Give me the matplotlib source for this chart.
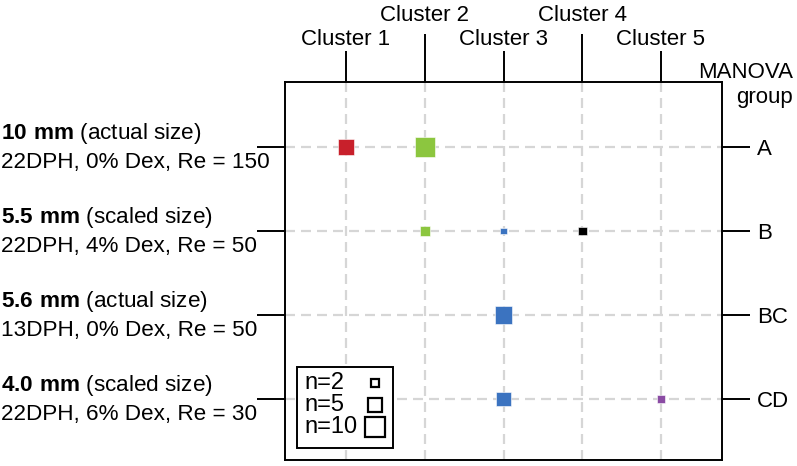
import matplotlib
matplotlib.use("Agg")
import matplotlib.pyplot as plt
import matplotlib.transforms as mtransforms
from matplotlib.ticker import FixedLocator
from matplotlib.legend_handler import HandlerBase
from matplotlib.lines import Line2D
from matplotlib.text import Text

plt.rcParams['font.family'] = ['Liberation Sans', 'DejaVu Sans']
plt.rcParams['mathtext.fontset'] = 'custom'
plt.rcParams['mathtext.rm'] = 'Liberation Sans'
plt.rcParams['mathtext.bf'] = 'Liberation Sans:bold'

# Data
clusters = ["Cluster 1", "Cluster 2", "Cluster 3", "Cluster 4", "Cluster 5"]
groups = ["A", "B", "BC", "CD"]
row_bold = ["10 mm", "5.5 mm", "5.6 mm", "4.0 mm"]
row_size = ["(actual size)", "(scaled size)", "(actual size)", "(scaled size)"]
row_cond = ["22DPH, 0% Dex, Re = 150", "22DPH, 4% Dex, Re = 50",
            "13DPH, 0% Dex, Re = 50", "22DPH, 6% Dex, Re = 30"]

# one entry per square: group, cluster, count
pt_group = ["A", "A", "B", "B", "B", "BC", "CD", "CD"]
pt_cluster = [1, 2, 2, 3, 4, 3, 3, 5]
pt_count = [7, 11, 3, 1, 2, 8, 6, 2]

legend_n = [2, 5, 10]

cluster_colors = {1: "#c8202b", 2: "#8cc63f", 3: "#3b73c0", 4: "#000000", 5: "#8a4ba3"}
size_per_n = 19.0
max_side = (size_per_n * max(legend_n)) ** 0.5


class SizeKeyHandler(HandlerBase):
    # draws the label left-aligned and the marker at the right of the handle box
    def create_artists(self, legend, orig_handle, xdescent, ydescent,
                       width, height, fontsize, trans):
        y = height / 2 - ydescent
        t = Text(-xdescent, y, orig_handle.get_label(), fontsize=fontsize,
                 ha="left", va="center", transform=trans)
        m = Line2D([width - xdescent - max_side / 2 - 1], [y], marker="s",
                   markersize=orig_handle.get_markersize(), markerfacecolor="none",
                   markeredgecolor="black", markeredgewidth=1.6, linestyle="none",
                   transform=trans)
        return [t, m]


fig = plt.figure(figsize=(7.97, 4.66), dpi=100)
ax = fig.add_axes([285 / 797, 1 - 460 / 466, 437 / 797, 378 / 466])

ypos = {g: len(groups) - i for i, g in enumerate(groups)}
xs = pt_cluster
ys = [ypos[g] for g in pt_group]
ax.scatter(xs, ys, s=[size_per_n * n for n in pt_count], marker="s",
           c=[cluster_colors[c] for c in pt_cluster], edgecolors="white",
           linewidths=0.4, zorder=3)

ax.set_xlim(0.225, 5.775)
ax.set_ylim(0.274, 4.774)

# top ticks: staggered clusters
ax.xaxis.tick_top()
ax.xaxis.set_major_locator(FixedLocator([1, 3, 5]))
ax.xaxis.set_minor_locator(FixedLocator([2, 4]))
ax.set_xticklabels([clusters[0], clusters[2], clusters[4]])
ax.set_xticklabels([clusters[1], clusters[3]], minor=True)
ax.tick_params(axis="x", which="major", direction="out", length=22.3, width=1.4,
               pad=0.8, labelsize=16, top=True, bottom=False)
ax.tick_params(axis="x", which="minor", direction="out", length=34.6, width=1.4,
               pad=5.9, labelsize=16, top=True, bottom=False)

# y ticks on both sides, labels on right
ax.set_yticks([ypos[g] for g in groups])
ax.set_yticklabels(groups)
ax.tick_params(axis="y", direction="out", length=20, width=1.4, pad=5,
               labelsize=16, left=True, right=True, labelleft=False, labelright=True)

for sp in ax.spines.values():
    sp.set_linewidth(1.4)

# dashed grid
for x in range(1, len(clusters) + 1):
    ax.axvline(x, color="#d6d6d6", lw=1.6, ls=(0, (4.5, 2.7)), zorder=1)
for g in groups:
    ax.axhline(ypos[g], color="#d6d6d6", lw=1.6, ls=(0, (4.5, 2.7)), zorder=1)

# left row descriptions
trans = mtransforms.blended_transform_factory(fig.transFigure, ax.transData)
for g, b, sz, cond in zip(groups, row_bold, row_size, row_cond):
    label = r"$\bf{" + b.replace(" ", r"\ ") + "}$ " + sz + "\n" + cond
    ax.text(1 / 797, ypos[g], label, transform=trans, ha="left", va="center",
            multialignment="left", fontsize=16.2, linespacing=1.32, clip_on=False)

fig.text(0.995, 1 - 85 / 466, "MANOVA\ngroup", ha="right", va="center",
         multialignment="right", fontsize=16, linespacing=1.25)

# size legend
handles = [Line2D([], [], marker="s", markersize=(size_per_n * n) ** 0.5,
                  linestyle="none", label="n=%d" % n) for n in legend_n]
leg = ax.legend(handles, [""] * len(handles), loc="lower left",
                handler_map={Line2D: SizeKeyHandler()},
                bbox_to_anchor=(0.027, 0.032), borderaxespad=0,
                fontsize=17, fancybox=False, framealpha=1, edgecolor="black",
                labelspacing=0.0, handletextpad=0, borderpad=0.32,
                handlelength=3.45)
leg.get_frame().set_linewidth(1.4)

fig.savefig("out.png", dpi=100)
